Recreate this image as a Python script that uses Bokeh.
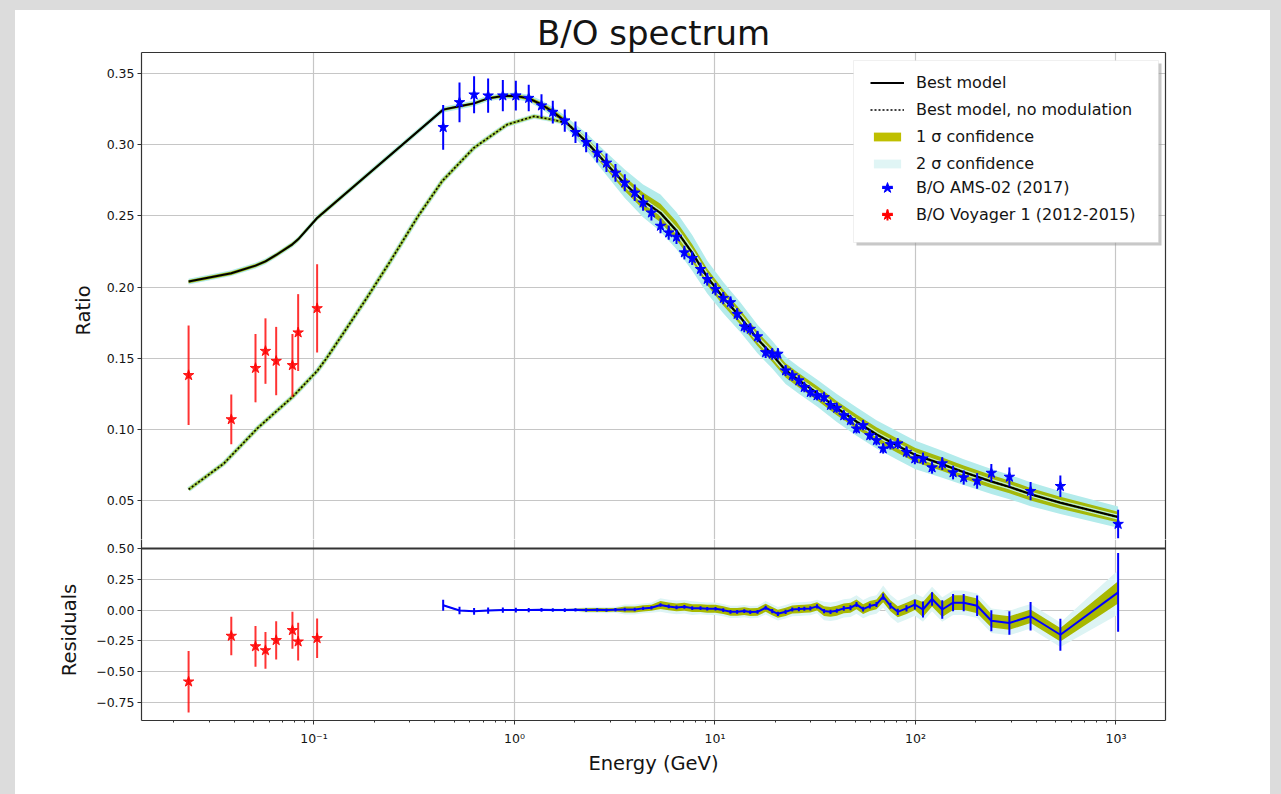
import math
from bokeh.plotting import figure
from bokeh.layouts import column
from bokeh.models import (Range1d, FixedTicker, CustomJSTickFormatter, Legend, LegendItem,
                          ColumnDataSource, Grid, BoxAnnotation, Title,
                          LinearAxis, LogAxis)
from bokeh.embed import file_html
from bokeh.resources import INLINE

# ---------------- data ----------------
voy_E = [0.0237, 0.0387, 0.0511, 0.0573, 0.0648, 0.0781, 0.0834, 0.1037]
voy_val = [0.138, 0.107, 0.143, 0.155, 0.148, 0.145, 0.168, 0.185]
voy_err = [0.035, 0.0175, 0.024, 0.023, 0.024, 0.022, 0.027, 0.031]
voy_res = [-0.581, -0.210, -0.295, -0.327, -0.245, -0.164, -0.256, -0.229]
voy_res_err = [0.25, 0.157, 0.165, 0.15, 0.155, 0.15, 0.153, 0.16]

ams_E = [0.441, 0.532, 0.629, 0.739, 0.875, 1.016, 1.178, 1.364, 1.553, 1.782,
         2.015, 2.278, 2.584, 2.876, 3.19, 3.55, 3.98, 4.38, 4.82, 5.35,
         5.88, 6.43, 7.04, 7.70, 8.47, 9.15, 10.06, 11.0, 11.95, 12.9,
         14.0, 15.0, 16.3, 17.9, 19.3, 20.6, 22.5, 24.3, 26.2, 27.9,
         29.9, 32.3, 35.0, 37.7, 40.5, 43.9, 47.4, 50.8, 54.8, 59.2,
         63.9, 69.0, 75.0, 81.6, 90.2, 99.3, 109, 121, 136, 154,
         174, 203, 239, 294, 375, 528, 1025]
ams_val = [0.3122, 0.3297, 0.3351, 0.3344, 0.3344, 0.3344, 0.3327, 0.3274, 0.3229, 0.3169,
           0.3087, 0.3017, 0.2942, 0.2872, 0.2802, 0.2732, 0.2662, 0.2592, 0.2522, 0.2429,
           0.2382, 0.2352, 0.2242, 0.2202, 0.2125, 0.2055, 0.1985, 0.1922, 0.1892, 0.1810,
           0.1722, 0.1705, 0.1652, 0.1541, 0.1530, 0.1530, 0.1413, 0.1378, 0.1343, 0.1296,
           0.1261, 0.1238, 0.1225, 0.1170, 0.1150, 0.1098, 0.1063, 0.1005, 0.1028, 0.0958,
           0.0923, 0.0865, 0.0895, 0.0900, 0.0841, 0.0795, 0.0795, 0.0732, 0.0760, 0.0697,
           0.0662, 0.0638, 0.0694, 0.0666, 0.0566, 0.0601, 0.0335]
ams_err = [0.0157, 0.0140, 0.0130, 0.0120, 0.0110, 0.0105, 0.0093, 0.0080, 0.0080, 0.0078,
           0.0075, 0.0070, 0.0068, 0.0065, 0.0062, 0.0060, 0.0058, 0.0056, 0.0054, 0.0052,
           0.0050, 0.0050, 0.0048, 0.0047, 0.0046, 0.0045, 0.0044, 0.0043, 0.0042, 0.0041,
           0.0040, 0.0040, 0.0040, 0.0040, 0.0040, 0.0040, 0.0038, 0.0037, 0.0036, 0.0035,
           0.0035, 0.0034, 0.0034, 0.0033, 0.0033, 0.0033, 0.0033, 0.0033, 0.0034, 0.0034,
           0.0035, 0.0035, 0.0036, 0.0037, 0.0038, 0.0040, 0.0042, 0.0043, 0.0045, 0.0048,
           0.0050, 0.0055, 0.0063, 0.0067, 0.0064, 0.0076, 0.0100]
ams_res = [0.040, -0.003, -0.010, -0.004, 0.000, 0.000, 0.000, 0.002, 0.001, 0.000,
           0.002, 0.001, 0.002, 0.000, 0.003, 0.005, 0.005, 0.014, 0.019, 0.041,
           0.030, 0.022, 0.027, 0.016, 0.016, 0.011, 0.011, 0.000, -0.014, -0.014,
           -0.008, -0.016, -0.014, 0.019, -0.008, -0.030, -0.014, 0.005, 0.008, 0.011,
           0.014, 0.030, -0.008, -0.014, -0.005, 0.014, 0.019, 0.046, 0.008, 0.033,
           0.046, 0.109, 0.035, -0.014, 0.014, 0.045, 0.005, 0.090, 0.005, 0.060,
           0.060, 0.035, -0.086, -0.105, -0.050, -0.200, 0.144]
ams_res_err = [0.045, 0.030, 0.028, 0.025, 0.022, 0.020, 0.018, 0.016, 0.015, 0.015,
               0.014, 0.014, 0.014, 0.014, 0.014, 0.014, 0.014, 0.014, 0.014, 0.014,
               0.015, 0.015, 0.015, 0.015, 0.015, 0.015, 0.015, 0.015, 0.015, 0.015,
               0.015, 0.015, 0.015, 0.017, 0.017, 0.017, 0.017, 0.017, 0.017, 0.017,
               0.017, 0.017, 0.017, 0.017, 0.017, 0.020, 0.020, 0.020, 0.020, 0.020,
               0.020, 0.025, 0.025, 0.025, 0.025, 0.040, 0.065, 0.055, 0.075, 0.070,
               0.070, 0.083, 0.085, 0.095, 0.115, 0.130, 0.320]
res_hw1 = [0.004, 0.004, 0.004, 0.004, 0.004, 0.004, 0.004, 0.004, 0.008, 0.008,
           0.008, 0.015, 0.015, 0.015, 0.015, 0.025, 0.025, 0.025, 0.025, 0.032,
           0.032, 0.032, 0.032, 0.032, 0.032, 0.032, 0.032, 0.032, 0.032, 0.032,
           0.032, 0.032, 0.032, 0.033, 0.033, 0.033, 0.033, 0.033, 0.033, 0.033,
           0.033, 0.033, 0.040, 0.040, 0.040, 0.040, 0.040, 0.040, 0.040, 0.040,
           0.040, 0.045, 0.045, 0.045, 0.045, 0.045, 0.060, 0.060, 0.060, 0.060,
           0.060, 0.060, 0.055, 0.055, 0.055, 0.055, 0.090]
res_hw2 = [0.008, 0.008, 0.008, 0.008, 0.008, 0.008, 0.008, 0.008, 0.014, 0.014,
           0.014, 0.025, 0.025, 0.025, 0.025, 0.040, 0.040, 0.040, 0.040, 0.055,
           0.055, 0.055, 0.055, 0.055, 0.050, 0.050, 0.050, 0.050, 0.050, 0.050,
           0.050, 0.050, 0.050, 0.055, 0.055, 0.055, 0.055, 0.055, 0.055, 0.055,
           0.055, 0.055, 0.075, 0.075, 0.075, 0.075, 0.075, 0.075, 0.075, 0.075,
           0.075, 0.090, 0.090, 0.090, 0.090, 0.090, 0.100, 0.100, 0.100, 0.100,
           0.100, 0.100, 0.100, 0.100, 0.100, 0.100, 0.180]

model_E = [0.0237, 0.0387, 0.0511, 0.0573, 0.0648, 0.0781, 0.0834, 0.1037,
           0.441, 0.532, 0.629, 0.739, 0.875, 1.016, 1.178, 1.364, 1.553, 1.782,
           2.278, 2.876, 3.55, 4.38, 5.35, 6.43, 7.70, 9.15, 11.0, 13.4,
           16.3, 19.3, 22.5, 26.2, 32.3, 40.5, 50.8, 63.9, 81.6, 100,
           136, 174, 239, 294, 375, 528, 1025]
model_val = [0.2038, 0.2097, 0.2150, 0.2180, 0.2225, 0.2300, 0.2335, 0.2485,
             0.3246, 0.3269, 0.3290, 0.3325, 0.3342, 0.3342, 0.3325, 0.3282, 0.3230, 0.3165,
             0.3022, 0.2865, 0.2725, 0.2605, 0.2520, 0.2395, 0.2240, 0.2070, 0.1925, 0.1787,
             0.1635, 0.1525, 0.1415, 0.1345, 0.1255, 0.1150, 0.1055, 0.0965, 0.0885, 0.0820,
             0.0755, 0.0700, 0.0634, 0.0596, 0.0545, 0.0485, 0.0384]
model_hw1 = [0.0012, 0.0012, 0.0012, 0.0012, 0.0012, 0.0012, 0.0012, 0.0012,
             0.0010, 0.0010, 0.0010, 0.0010, 0.0010, 0.0012, 0.0013, 0.0015, 0.0018, 0.0020,
             0.0030, 0.0040, 0.0050, 0.0058, 0.0065, 0.0065, 0.0060, 0.0058, 0.0055, 0.0052,
             0.0050, 0.0050, 0.0050, 0.0050, 0.0050, 0.0050, 0.0050, 0.0050, 0.0050, 0.0050,
             0.0048, 0.0047, 0.0046, 0.0045, 0.0044, 0.0042, 0.0038]
model_hw2 = [0.0020, 0.0020, 0.0020, 0.0020, 0.0020, 0.0020, 0.0020, 0.0020,
             0.0020, 0.0020, 0.0020, 0.0020, 0.0020, 0.0024, 0.0026, 0.0030, 0.0035, 0.0040,
             0.0060, 0.0080, 0.0100, 0.0115, 0.0130, 0.0130, 0.0125, 0.0115, 0.0110, 0.0105,
             0.0100, 0.0098, 0.0096, 0.0095, 0.0095, 0.0098, 0.0100, 0.0100, 0.0100, 0.0100,
             0.0095, 0.0090, 0.0088, 0.0086, 0.0084, 0.0080, 0.0074]

nomod_E = [0.0237, 0.0355, 0.052, 0.0779, 0.1037, 0.1164, 0.1465, 0.1842, 0.241, 0.327,
           0.436, 0.627, 0.92, 1.25, 1.54, 1.83,
           2.278, 2.876, 3.55, 4.38, 5.35, 6.43, 7.70, 9.15, 11.0, 13.4,
           16.3, 19.3, 22.5, 26.2, 32.3, 40.5, 50.8, 63.9, 81.6, 100,
           136, 174, 239, 294, 375, 528, 1025]
nomod_val = [0.0578, 0.0760, 0.1005, 0.1226, 0.1410, 0.1506, 0.1716, 0.1927, 0.2184, 0.2487,
             0.2744, 0.2977, 0.3141, 0.3199, 0.3176, 0.3152,
             0.3022, 0.2865, 0.2725, 0.2605, 0.2520, 0.2395, 0.2240, 0.2070, 0.1925, 0.1787,
             0.1635, 0.1525, 0.1415, 0.1345, 0.1255, 0.1150, 0.1055, 0.0965, 0.0885, 0.0820,
             0.0755, 0.0700, 0.0634, 0.0596, 0.0545, 0.0485, 0.0384]

ratio_ticks = [0.05, 0.10, 0.15, 0.20, 0.25, 0.30, 0.35]
res_ticks = [-0.75, -0.50, -0.25, 0.0, 0.25, 0.50]
energy_ticks = [0.1, 1, 10, 100, 1000]

# ---------------- style ----------------
FONT = "DejaVu Sans"
TXT = "#141414"
FRAME = "#333333"
GRID = "#c6c6c6"
BLUE = "#0000ff"
RED = "#ff0000"
OLIVE_TOP = "#a3b90a"
CYAN_TOP = "#b3ebeb"
OLIVE_RES = "#a8b800"
CYAN_RES = "#ddf4f4"

minor = [m * 10.0 ** k for k in range(-2, 4) for m in range(2, 10)]
x_range = Range1d(0.0138, 1766)


def clean(p):
    p.outline_line_color = None
    p.background_fill_color = "white"
    p.border_fill_color = "white"
    for g in list(p.center):
        if isinstance(g, Grid):
            g.visible = False


def spine_axis(cls):
    return cls(ticker=FixedTicker(ticks=[]), axis_line_color=FRAME, axis_line_width=1.2,
               major_tick_line_color=None, minor_tick_line_color=None)


def style_yaxis(ax, ticks, code):
    ax.ticker = FixedTicker(ticks=ticks)
    ax.formatter = CustomJSTickFormatter(code=code)
    ax.axis_line_color = FRAME
    ax.axis_line_width = 1.2
    ax.major_tick_line_color = FRAME
    ax.major_tick_out = 4
    ax.major_tick_in = 0
    ax.minor_tick_line_color = None
    ax.major_label_standoff = 3
    ax.major_label_text_font = FONT
    ax.major_label_text_font_size = "12.5px"
    ax.major_label_text_color = TXT


# ---------------- top panel ----------------
top = figure(width=1255, height=529, x_axis_type="log", x_axis_location=None,
             x_range=x_range, y_range=Range1d(0.02266, 0.36472),
             output_backend="svg", toolbar_location=None,
             min_border_left=126, min_border_right=105, min_border_top=41, min_border_bottom=0)
clean(top)
top.title = Title(text="B/O spectrum", align="center", standoff=0,
                  text_font=FONT, text_font_size="34px", text_font_style="normal",
                  text_color=TXT)
top.add_layout(Grid(dimension=0, ticker=FixedTicker(ticks=energy_ticks),
                    grid_line_color=GRID, grid_line_width=1.2))
top.add_layout(Grid(dimension=1, ticker=FixedTicker(ticks=ratio_ticks),
                    grid_line_color=GRID, grid_line_width=1.2))
style_yaxis(top.yaxis[0], ratio_ticks, "return tick.toFixed(2);")
top.add_layout(spine_axis(LinearAxis), "right")
top.add_layout(spine_axis(LogAxis), "above")
top.add_layout(Title(text="Ratio", align="left", offset=204, standoff=18,
                     text_font=FONT, text_font_size="19.5px", text_font_style="normal",
                     text_color=TXT), "left")

band_src = ColumnDataSource(dict(
    x=model_E,
    lo1=[m - h for m, h in zip(model_val, model_hw1)],
    hi1=[m + h for m, h in zip(model_val, model_hw1)],
    lo2=[m - h for m, h in zip(model_val, model_hw2)],
    hi2=[m + h for m, h in zip(model_val, model_hw2)],
))
top.varea(x="x", y1="lo2", y2="hi2", source=band_src, fill_color=CYAN_TOP)
top.varea(x="x", y1="lo1", y2="hi1", source=band_src, fill_color=OLIVE_TOP)

top.line(nomod_E, nomod_val, line_color="#c2eeee", line_width=5)
top.line(nomod_E, nomod_val, line_color="#9cc43c", line_width=3)
r_nomod = top.line(nomod_E, nomod_val, line_color="black", line_width=1.6, line_dash="2 2")
r_best = top.line(model_E, model_val, line_color="black", line_width=2)

top.segment(x0=ams_E, y0=[v - e for v, e in zip(ams_val, ams_err)],
            x1=ams_E, y1=[v + e for v, e in zip(ams_val, ams_err)],
            line_color=BLUE, line_width=2)
top.scatter(ams_E, ams_val, marker="star", size=11, fill_color=BLUE, line_color=BLUE)

top.segment(x0=voy_E, y0=[v - e for v, e in zip(voy_val, voy_err)],
            x1=voy_E, y1=[v + e for v, e in zip(voy_val, voy_err)],
            line_color=RED, line_alpha=0.8, line_width=2)
top.scatter(voy_E, voy_val, marker="star", size=11, fill_color=RED, line_color=RED,
            fill_alpha=0.85, line_alpha=0.85)

# legend-only renderers (outside the visible range)
off_x = [1e-6, 2e-6]
off_y = [0.2, 0.2]
d1 = top.varea(x=off_x, y1=off_y, y2=off_y, fill_color="#bfbf00")
d2 = top.varea(x=off_x, y1=off_y, y2=off_y, fill_color="#e0f5f5")
d_ams_bar = top.scatter(off_x[:1], off_y[:1], marker="dash", angle=math.pi / 2, size=14,
                        line_color=BLUE, line_width=2)
d_ams_star = top.scatter(off_x[:1], off_y[:1], marker="star", size=11,
                         fill_color=BLUE, line_color=BLUE)
d_voy_cross = top.scatter(off_x[:1], off_y[:1], marker="cross", size=16,
                          line_color=RED, line_width=2)
d_voy_star = top.scatter(off_x[:1], off_y[:1], marker="star", size=11,
                         fill_color=RED, line_color=RED)

# legend frame + shadow (frame-relative screen units)
top.add_layout(BoxAnnotation(left=715, right=1020, bottom=294, top=476,
                             left_units="screen", right_units="screen",
                             top_units="screen", bottom_units="screen",
                             fill_color="#9a9a9a", fill_alpha=0.55, line_color=None))
top.add_layout(BoxAnnotation(left=712, right=1017, bottom=297, top=479,
                             left_units="screen", right_units="screen",
                             top_units="screen", bottom_units="screen",
                             fill_color="white", fill_alpha=1.0, line_color="#cccccc",
                             line_width=1))

leg_common = dict(glyph_width=34, label_standoff=12, padding=0, margin=0,
                  background_fill_alpha=0, border_line_color=None,
                  label_text_font=FONT, label_text_font_size="16px",
                  label_text_color=TXT, label_height=20)
leg_a = Legend(items=[LegendItem(label="Best model", renderers=[r_best]),
                      LegendItem(label="Best model, no modulation", renderers=[r_nomod]),
                      LegendItem(label="1 σ confidence", renderers=[d1]),
                      LegendItem(label="2 σ confidence", renderers=[d2])],
               location=(729, 366), glyph_height=11, spacing=7, **leg_common)
leg_b = Legend(items=[LegendItem(label="B/O AMS-02 (2017)", renderers=[d_ams_bar, d_ams_star]),
                      LegendItem(label="B/O Voyager 1 (2012-2015)",
                                 renderers=[d_voy_cross, d_voy_star])],
               location=(729, 311), glyph_height=27, spacing=0, **leg_common)
top.add_layout(leg_a)
top.add_layout(leg_b)

# ---------------- residual panel ----------------
bot = figure(width=1255, height=255, x_axis_type="log", x_range=x_range,
             y_range=Range1d(-0.8961, 0.5731),
             output_backend="svg", toolbar_location=None,
             min_border_left=126, min_border_right=105, min_border_top=0, min_border_bottom=74)
clean(bot)
bot.add_layout(Grid(dimension=0, ticker=FixedTicker(ticks=energy_ticks),
                    grid_line_color=GRID, grid_line_width=1.2))
bot.add_layout(Grid(dimension=1, ticker=FixedTicker(ticks=res_ticks[:-1]),
                    grid_line_color=GRID, grid_line_width=1.2))
bot.add_layout(Grid(dimension=1, ticker=FixedTicker(ticks=res_ticks[-1:]),
                    grid_line_color=FRAME, grid_line_width=1.8))
bot.add_layout(spine_axis(LinearAxis), "right")

xa = bot.xaxis[0]
xa.ticker = FixedTicker(ticks=energy_ticks, minor_ticks=minor)
xa.formatter = CustomJSTickFormatter(code="""
const e = Math.round(Math.log10(tick));
const sup = {'-': '\u207b', '0': '\u2070', '1': '\u00b9', '2': '\u00b2', '3': '\u00b3'};
return '10' + String(e).split('').map(c => sup[c]).join('');
""")
xa.axis_line_color = FRAME
xa.axis_line_width = 1.2
xa.major_tick_line_color = FRAME
xa.major_tick_out = 4
xa.major_tick_in = 0
xa.minor_tick_line_color = FRAME
xa.minor_tick_out = 2
xa.minor_tick_in = 0
xa.major_label_standoff = 6
xa.major_label_text_font = FONT
xa.major_label_text_font_size = "12.5px"
xa.major_label_text_color = TXT
xa.axis_label = "Energy (GeV)"
xa.axis_label_standoff = 3
xa.axis_label_text_font = FONT
xa.axis_label_text_font_size = "19.5px"
xa.axis_label_text_font_style = "normal"
xa.axis_label_text_color = TXT

yb = bot.yaxis[0]
style_yaxis(yb, res_ticks, "return tick.toFixed(2).replace('-', '\u2212');")
yb.axis_label = "Residuals"
yb.axis_label_standoff = 12
yb.axis_label_text_font = FONT
yb.axis_label_text_font_size = "19.5px"
yb.axis_label_text_font_style = "normal"
yb.axis_label_text_color = TXT

res_src = ColumnDataSource(dict(
    x=ams_E,
    lo1=[r - h for r, h in zip(ams_res, res_hw1)],
    hi1=[r + h for r, h in zip(ams_res, res_hw1)],
    lo2=[r - h for r, h in zip(ams_res, res_hw2)],
    hi2=[r + h for r, h in zip(ams_res, res_hw2)],
))
bot.varea(x="x", y1="lo2", y2="hi2", source=res_src, fill_color=CYAN_RES)
bot.varea(x="x", y1="lo1", y2="hi1", source=res_src, fill_color=OLIVE_RES)
bot.line(ams_E, ams_res, line_color=BLUE, line_width=2)
bot.segment(x0=ams_E, y0=[r - e for r, e in zip(ams_res, ams_res_err)],
            x1=ams_E, y1=[r + e for r, e in zip(ams_res, ams_res_err)],
            line_color=BLUE, line_width=2)

bot.segment(x0=voy_E, y0=[r - e for r, e in zip(voy_res, voy_res_err)],
            x1=voy_E, y1=[r + e for r, e in zip(voy_res, voy_res_err)],
            line_color=RED, line_alpha=0.8, line_width=2)
bot.scatter(voy_E, voy_res, marker="star", size=11, fill_color=RED, line_color=RED,
            fill_alpha=0.85, line_alpha=0.85)

# ---------------- page ----------------
inner = column(top, bot, margin=(10, 11, 0, 15), styles={"background-color": "white"})
page = column(inner, styles={"background-color": "#dcdcdc"})

open("out.html", "w").write(file_html(page, INLINE))
